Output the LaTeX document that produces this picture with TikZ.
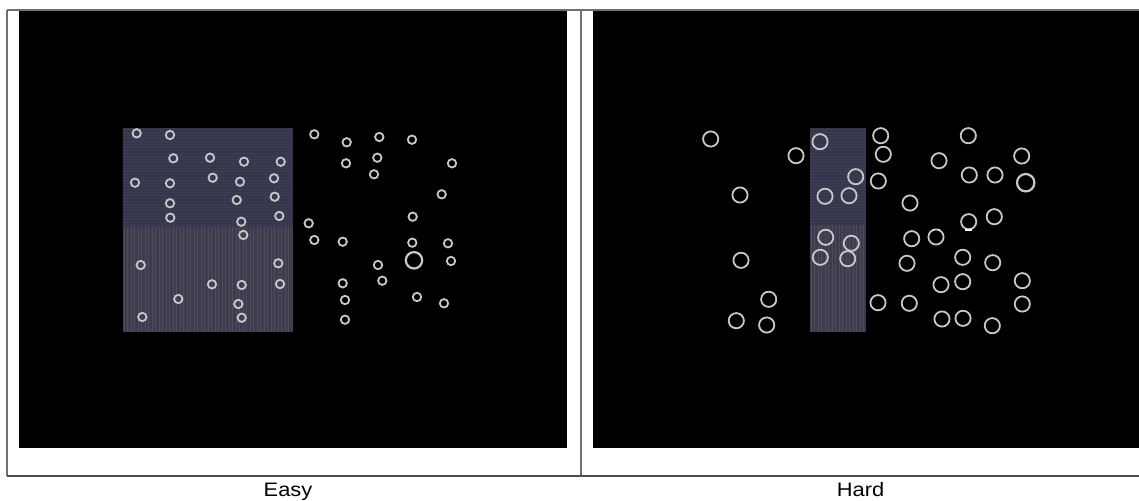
\documentclass[tikz,border=0pt]{standalone}
\usepackage{fontspec}
\setmainfont{Liberation Sans}
\usepackage{xcolor}
\usetikzlibrary{calc}
\definecolor{framegray}{RGB}{112,112,112}
\definecolor{zoneup}{RGB}{54,54,76}
\definecolor{zonelow}{RGB}{60,60,76}
\definecolor{zoneline}{RGB}{60,60,84}
\definecolor{stripe}{RGB}{76,76,92}
\definecolor{ringgray}{RGB}{200,200,200}
\tikzset{
  frameline/.style={draw=framegray,line width=1.3pt},
  panel/.style={fill=black},
  ring/.style={draw=ringgray,line width=1.8pt},
  bigring/.style={draw=ringgray,line width=2.2pt},
  caption/.style={font=\fontsize{19.5}{22}\selectfont,anchor=base,inner sep=0pt},
}

\begin{document}
\begin{tikzpicture}[x=1pt,y=-1pt]
\useasboundingbox (0,0) rectangle (1139,500);
\fill[white] (0,0) rectangle (1139,500);
% black screens
\fill[panel] (19,11) rectangle (567,448);
\fill[panel] (593,11) rectangle (1139,448);
% outer frame and divider
\draw[frameline] (7,10) -- (1139,10);
\draw[frameline] (7,10) -- (7,476);
\draw[frameline] (581,10) -- (581,476);
\draw[draw=framegray!70!black,line width=1.8pt] (7,476) -- (1139,476);
% left: wide target zone
\fill[zoneup] (122.7,127.7) rectangle (292.7,227);
\fill[zonelow] (122.7,227) rectangle (292.7,331.7);
\begin{scope}
\clip (122.7,127.7) rectangle (292.7,227);
\foreach \y in {129,132,...,227} \draw[zoneline,line width=0.6pt] (122,\y) -- (293,\y);
\end{scope}
\begin{scope}
\clip (122.7,227) rectangle (292.7,331.7);
\foreach \x in {124,127.5,...,293} \draw[stripe,line width=0.8pt] (\x,227) -- (\x,332);
\end{scope}
% right: narrow target zone
\fill[zoneup] (810,127.7) rectangle (866,225);
\fill[zonelow] (810,225) rectangle (866,331.7);
\begin{scope}
\clip (810,127.7) rectangle (866,225);
\foreach \y in {129,132,...,225} \draw[zoneline,line width=0.6pt] (810,\y) -- (866,\y);
\end{scope}
\begin{scope}
\clip (810,225) rectangle (866,331.7);
\foreach \x in {811,814.5,...,866} \draw[stripe,line width=0.8pt] (\x,225) -- (\x,332);
\end{scope}
% easy: small rings
\foreach \p in {(136.7,133.3),(170,135),(173.3,158.3),(210,157.7),(244,161.7),
  (280.7,161.7),(135,182.7),(170,183.3),(212.7,177.7),(240,181.7),(274,178.3),
  (170,203.3),(236.7,200),(274.7,196.7),(170.3,217.7),(241.3,221.7),(279.3,216),
  (243.3,235),(140.7,265),(278.3,263.3),(212,284.3),(241.7,285),(280,284),
  (178.3,299),(238.3,304),(142.3,317),(241.7,317.7),
  (314.3,134.3),(346.7,142.3),(379.3,137),(412,139.7),(346,163.3),(377.3,157.7),
  (452,163.3),(374,174.3),(441.7,194.3),(412.7,216.7),(308.7,223.3),(314.3,240),
  (342.7,241.7),(412.3,242.7),(448,243.3),(451,261),(378,265),(382.3,280.7),
  (342.7,283.3),(345,300),(417,297),(444,303.3),(345,319.7)}
  \draw[ring] \p circle (4.2);
\draw[bigring] (414,260.3) circle (8.2);
% hard: larger rings
\foreach \p in {(710.7,139),(796,155.7),(820,141.7),(880.7,135.7),(883.3,154.3),
  (855.7,176.7),(878.3,181),(740,195),(825,196.3),(849,195.7),(825.7,237.3),
  (851.3,243.3),(820.3,257.3),(847.7,258.7),(741,260.3),(768.7,299.3),
  (878,302.7),(736.3,320.7),(766.7,325),
  (968.3,135.7),(939,160.7),(1021.7,156),(969.3,175),(995,175),(910,203),
  (968.7,221.7),(994.3,216.7),(911.7,238.7),(936,237),(907,263.3),(962.7,257.3),
  (992.7,262.7),(941,284.7),(962.7,281.7),(1022.3,280.7),(909.3,303.3),
  (1022.3,304),(942,319),(963,318.3),(992.3,325.7)}
  \draw[ring] \p circle (7.6);
\draw[bigring] (1025.7,182.7) circle (8.7);
% small glitches on two rings
\draw[white,line width=1.2pt] (965,230) -- (972,230);
\draw[white,line width=1pt] (932.5,229.3) -- (934.5,229.3) (937.5,229.3) -- (939.5,229.3);
% captions
\node[caption] (easy) at (288,496) {\scalebox{1.12}[1]{Easy}};
\node[caption] (hard) at (860.5,496) {\scalebox{1.12}[1]{Hard}};
\end{tikzpicture}
\end{document}
